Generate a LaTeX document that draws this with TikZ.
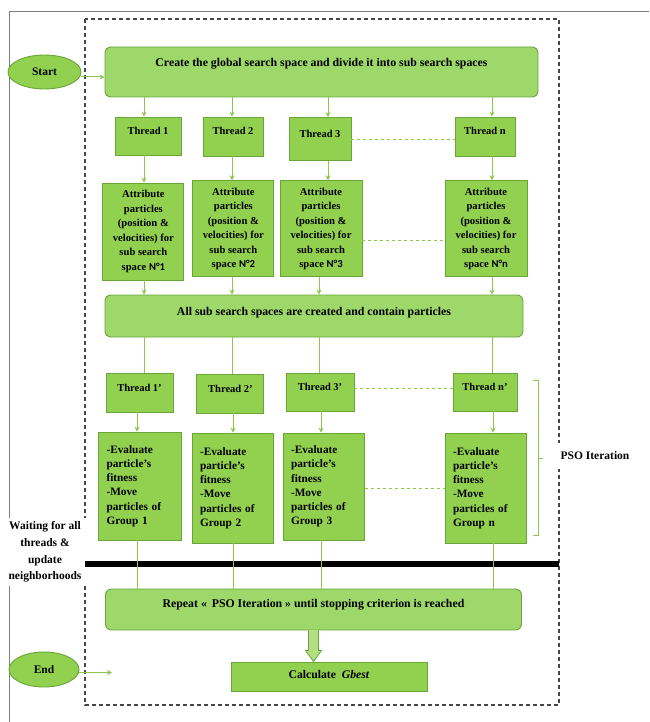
\documentclass[tikz,border=0pt]{standalone}
\usepackage{fontspec}
\setmainfont{Liberation Serif}
\newfontfamily\numfont{Carlito}
\usetikzlibrary{arrows.meta, positioning, shapes.geometric, calc}
\definecolor{boxgreen}{RGB}{146,208,80}
\definecolor{widegreen}{RGB}{158,215,106}
\definecolor{edgegreen}{RGB}{104,166,58}
\definecolor{linegreen}{RGB}{140,200,78}
\definecolor{framegray}{RGB}{70,70,70}

\begin{document}
\begin{tikzpicture}[x=1pt, y=-1pt,
        widebox/.style={draw=edgegreen, line width=0.9pt, fill=widegreen, rounded corners=6pt, inner sep=0pt, text height=7pt, font=\bfseries\fontsize{11.8}{14}\selectfont},
        thread/.style={draw=edgegreen, line width=0.9pt, fill=boxgreen, inner sep=0pt, text height=7pt, text depth=10pt, font=\bfseries\fontsize{10.5}{12}\selectfont},
        attrib/.style={draw=edgegreen, line width=0.9pt, fill=boxgreen, inner sep=0pt, align=center, font=\bfseries\fontsize{10.6}{14.5}\selectfont},
        evalbox/.style={draw=edgegreen, line width=0.9pt, fill=boxgreen, inner sep=0pt, align=left, text width=66pt, font=\bfseries\fontsize{11.3}{14.2}\selectfont},
        terminal/.style={ellipse, draw=edgegreen, line width=0.9pt, fill=boxgreen, inner sep=0pt, font=\bfseries\fontsize{11.5}{13}\selectfont},
        note/.style={fill=white, inner xsep=5pt, align=center, font=\bfseries\fontsize{11.5}{16.7}\selectfont},
        arrow/.style={-{Stealth[length=5pt, width=5pt]}, linegreen, line width=1pt},
        link/.style={linegreen, line width=1pt},
        dots/.style={linegreen, dash pattern=on 3pt off 3pt, line width=1pt},
        blockarrow/.style={draw=edgegreen, fill=boxgreen!70!white, line width=0.8pt}
    ]
        \useasboundingbox (0,0) rectangle (649,722);

        % Page edge and dashed frame
        \draw[gray, line width=0.8pt] (9,722) -- (9,11.7) -- (649,11.7);
        \draw[framegray, dash pattern=on 4pt off 3pt, line width=1.2pt] (85,19) rectangle (559,705);

        % Start / End
        \node[terminal, minimum width=73pt, minimum height=34pt] (start) at (44.5,72) {Start};
        \node[terminal, minimum width=70pt, minimum height=35pt] (end) at (44,669.5) {End};

        % First stage
        \node[widebox, minimum width=433pt, minimum height=50pt, text depth=18pt] (create) at (321.5,72) {Create the global search space and divide it into sub search spaces};

        \node[thread, minimum width=66pt, minimum height=38pt] (t1) at (148,136) {Thread 1};
        \node[thread, minimum width=60pt, minimum height=39pt] (t2) at (233,136.5) {Thread 2};
        \node[thread, minimum width=62pt, minimum height=43pt] (t3) at (320,139) {Thread 3};
        \node[thread, minimum width=60pt, minimum height=39pt] (tn) at (485,136.5) {Thread n};

        \node[attrib, minimum width=81pt, minimum height=97pt] (a1) at (143.4,231.5) {Attribute\\particles\\(position \&\\velocities) for\\sub search\\space {\numfont N°1}};
        \node[attrib, minimum width=81pt, minimum height=96pt] (a2) at (233.4,228.7) {Attribute\\particles\\(position \&\\velocities) for\\sub search\\space {\numfont N°2}};
        \node[attrib, minimum width=82pt, minimum height=96pt] (a3) at (321,228.7) {Attribute\\particles\\(position \&\\velocities) for\\sub search\\space {\numfont N°3}};
        \node[attrib, minimum width=82pt, minimum height=96pt] (an) at (486,228.7) {Attribute\\particles\\(position \&\\velocities) for\\sub search\\space {\numfont N°n}};

        \node[widebox, minimum width=418pt, minimum height=42pt, text depth=8.6pt] (all) at (314,316) {All sub search spaces are created and contain particles};

        % PSO iteration
        \node[thread, minimum width=67pt, minimum height=39pt] (u1) at (139.5,392.5) {Thread 1’};
        \node[thread, minimum width=67pt, minimum height=39pt] (u2) at (230.4,393.5) {Thread 2’};
        \node[thread, minimum width=68pt, minimum height=38pt] (u3) at (320,392) {Thread 3’};
        \node[thread, minimum width=64pt, minimum height=38pt] (un) at (485,392) {Thread n’};

        \node[evalbox, minimum width=83pt, minimum height=108pt] (e1) at (139.5,486) {-Evaluate\\particle’s\\fitness\\-Move\\particles of\\Group 1};
        \node[evalbox, minimum width=81pt, minimum height=110pt] (e2) at (233,488) {-Evaluate\\particle’s\\fitness\\-Move\\particles of\\Group 2};
        \node[evalbox, minimum width=81pt, minimum height=107pt] (e3) at (324,486.5) {-Evaluate\\particle’s\\fitness\\-Move\\particles of\\Group 3};
        \node[evalbox, minimum width=81pt, minimum height=110pt] (en) at (486,488) {-Evaluate\\particle’s\\fitness\\-Move\\particles of\\Group n};

        \node[note, inner ysep=9pt] (pso) at (595,456) {PSO Iteration};
        \node[note] (wait) at (45,552) {Waiting for all\\threads \&\\update\\neighborhoods};

        % Synchronisation bar
        \draw[line width=6pt] (85,564) -- (559,564);

        % Last stage
        \node[widebox, minimum width=416pt, minimum height=41pt, text depth=11pt] (rep) at (313.5,609.5) {Repeat «\, PSO Iteration » until stopping criterion is reached};
        \node[thread, minimum width=196pt, minimum height=29pt, text depth=4pt, font=\bfseries\fontsize{11.7}{13}\selectfont] (calc) at (329,676.5) {Calculate \ \textit{Gbest}};

        % Connectors
        \draw[arrow] ([yshift=-5pt]start.east) -- ([yshift=-5pt]create.west);
        \foreach \t/\a/\x in {t1/a1/144, t2/a2/232, t3/a3/328, tn/an/492}{
            \draw[arrow] (create.south -| \x,0) -- (\t.north -| \x,0);
            \draw[arrow] (\t.south -| \x,0) -- (\a.north -| \x,0);
        }
        \foreach \a/\u/\e/\x/\y in {a1/u1/e1/144/137, a2/u2/e2/232/233, a3/u3/e3/319/321, an/un/en/492/493}{
            \draw[arrow] (\a.south -| \x,0) -- (all.north -| \x,0);
            \draw[link] (all.south -| \x,0) -- (\u.north -| \x,0);
            \draw[arrow] (\u.south -| \y,0) -- (\e.north -| \y,0);
            \draw[link] (\e.south -| \y,0) -- (rep.north -| \y,0);
        }
        \draw[dots] ([yshift=-0.3pt]t3.east) -- ([yshift=-0.3pt]t3.east -| tn.west);
        \draw[dots] ([yshift=-12pt]a3.east) -- ([yshift=-12pt]a3.east -| an.west);
        \draw[dots] ([yshift=4pt]u3.east) -- ([yshift=4pt]u3.east -| un.west);
        \draw[dots] ([yshift=-1.5pt]e3.east) -- ([yshift=-1.5pt]e3.east -| en.west);

        % Bracket of the iteration
        \draw[link] (533,380) -| (538,535) -- (533,535);
        \draw[link] (538,458) -- (543,458);

        % Down to Gbest
        \draw[blockarrow] ($(rep.south)+(-5,0)$) -- ($(rep.south)+(-5,20)$) -- ($(rep.south)+(-8,20)$) -- (rep.south |- calc.north) -- ($(rep.south)+(8,20)$) -- ($(rep.south)+(5,20)$) -- ($(rep.south)+(5,0)$);

        \coordinate (endtip) at (112,672.5);
        \draw[arrow] ([yshift=-3pt]end.east) -- (endtip);
    \end{tikzpicture}
\end{document}
